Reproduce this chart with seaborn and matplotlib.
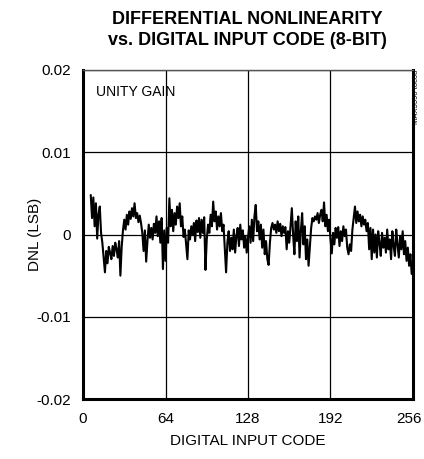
import numpy as np
import pandas as pd
import matplotlib
matplotlib.use("Agg")
import matplotlib.pyplot as plt
import matplotlib.transforms as mtransforms
import seaborn as sns

# DNL readings, in units of 0.001 LSB, for codes 6..255
codes = list(range(6, 256))
dnl_milli = [
    4.8, 2.0, 4.5, 1.0, 3.8, -0.5, 2.5, 3.4, 0.2, -1.0,
    -2.8, -4.6, -2.0, -3.5, -1.5, -2.2, -3.0, -1.4, -2.6, -1.0,
    -1.8, -2.8, -0.8, -5.0, -1.5, 0.5,
    1.8, 0.6, 2.4, 1.2, 2.8, 1.9, 3.2, 2.2, 3.8, 2.0,
    2.6, 1.5, 2.3, 1.4, 0.2, -2.0, 0.5, -3.3, -0.8, 1.2,
    -0.4, 0.8, -0.6, 1.3, 0.2, 2.2, -0.2, 1.6, -1.0, 2.0,
    -4.2, 0.5,
    -3.2, 0.8, -1.0, 4.4, 1.0, 3.0, 0.4, 2.6, 1.2, 3.4,
    2.0, 3.8, 1.0, 2.2, -0.3, 0.6, -1.2, -3.0, 0.5, -0.6,
    1.0, 0.0, 1.4, -0.8, 1.7, 0.3, 2.0, -0.4, 1.8, 0.2,
    2.1, -4.3,
    -0.6, 1.2, 0.2, 2.4, 1.0, 4.0, 1.6, 2.8, 0.6, 2.2,
    1.0, 2.6, 0.4, 1.2, -1.6, -4.6, -1.0, 0.4, -2.0, -0.4,
    -1.8, 0.6, -2.2, -0.2, 0.8, -1.4, 1.2, -0.6, 0.5, -1.6,
    -0.2, -2.2,
    -0.4, 1.0, -1.0, 1.8, -0.8, 2.2, 3.6, 0.4, 1.6, -0.6,
    1.2, -1.6, 0.6, -2.4, -0.8, -3.0, -3.7, -1.0, 0.8, 1.4,
    0.6, 1.2, 0.2, 1.6, 0.4, 1.3, -0.2, 1.0, 0.2, 0.9,
    -1.8, 0.4,
    -1.0, 1.0, 3.2, 0.0, -2.4, 1.6, -0.8, 2.2, -2.8, 0.4,
    2.6, -1.2, 1.0, -3.0, -0.6, -3.8, -1.4, 0.8, 2.0, 1.6,
    2.2, 1.8, 2.6, 1.4, 2.4, 3.0, 1.6, 3.9, 1.0, 2.4,
    0.4, 1.8,
    -0.6, -2.3, 0.2, -1.2, 0.8, -0.4, 0.9, -1.4, 0.4, -0.8,
    1.0, -0.2, 0.6, -1.6, -2.4, -1.2, -2.0, 0.6, 2.0, 3.4,
    1.4, 2.8, 1.6, 2.4, 1.0, 2.2, 1.2, 1.8, 0.4, 1.4,
    -1.8, 0.8, -3.0, 0.6, -2.2, 0.0, -2.8, 0.4, -1.0, -2.6,
    0.2, -1.6, -0.4, -2.2, 0.6, -1.8, -0.6, -3.0, 0.4, -1.4,
    -2.6, 0.6, -1.2, -2.8, -0.2, -1.8, 0.4, -2.4, -0.8, -3.2,
    -1.6, -3.8, -2.4, -4.8,
]

x_ticks = [0, 64, 128, 192, 256]
y_ticks = [-0.02, -0.01, 0, 0.01, 0.02]
y_tick_labels = ["-0.02", "-0.01", "0", "0.01", "0.02"]

df = pd.DataFrame({"code": codes, "dnl": np.array(dnl_milli) * 1e-3})

sns.set_style("white")
plt.rcParams["font.family"] = ["Liberation Sans", "DejaVu Sans"]
for key in ["text.color", "axes.labelcolor", "xtick.color", "ytick.color"]:
    plt.rcParams[key] = "black"

fig = plt.figure(figsize=(4.24, 4.59), dpi=100)
ax = fig.add_axes([0.1958, 0.1307, 0.7782, 0.7168])

sns.lineplot(data=df, x="code", y="dnl", ax=ax, color="black", linewidth=1.5)

ax.set_xlim(0, 256)
ax.set_ylim(-0.02, 0.02)
ax.set_xticks(x_ticks)
ax.set_xticklabels([str(t) for t in x_ticks], fontsize=11)
ax.set_yticks(y_ticks)
ax.set_yticklabels(y_tick_labels, fontsize=11)
ax.tick_params(length=0, pad=9)
ax.grid(True, color="black", linewidth=0.9)

# nudge the "256" label left so it stays inside the figure
last = ax.get_xticklabels()[-1]
last.set_transform(last.get_transform() +
                   mtransforms.ScaledTranslation(-4 / 100, 0, fig.dpi_scale_trans))

for side in ["left", "bottom", "right"]:
    ax.spines[side].set_linewidth(2.2)
    ax.spines[side].set_color("black")
ax.spines["top"].set_linewidth(1.0)
ax.spines["top"].set_color("#555555")

ax.set_xlabel("DIGITAL INPUT CODE", fontsize=11, labelpad=6)
ax.set_ylabel("DNL (LSB)", fontsize=11)
ax.yaxis.set_label_coords(-0.125, 0.5)

ax.text(0.04, 0.955, "UNITY GAIN", transform=ax.transAxes, fontsize=10,
        va="top", ha="left")
fig.text(0.982, 0.848, "MAX5590 toc08", rotation=90, fontsize=5.5,
         va="top", ha="center")

fig.text(0.584, 0.975, "DIFFERENTIAL NONLINEARITY\nvs. DIGITAL INPUT CODE (8-BIT)",
         ha="center", va="top", fontsize=13, fontweight="bold",
         linespacing=1.3)

fig.savefig("out.png", dpi=100)
